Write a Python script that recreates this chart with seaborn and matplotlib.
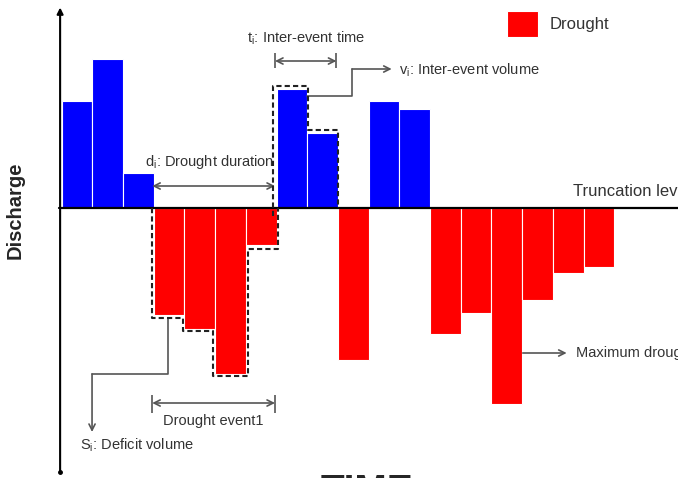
import numpy as np
import pandas as pd
import matplotlib
matplotlib.use("Agg")
import matplotlib.pyplot as plt
import seaborn as sns

# discharge anomaly per time step (above / below truncation level)
steps = list(range(18))
discharge = [10.7, 14.9, 3.5, -10.7, -12.0, -16.5, -3.7, 11.9, 7.5,
             -15.1, 10.7, 9.9, -12.6, -10.4, -19.5, -9.2, -6.5, -5.9]
kinds = ["Drought" if v < 0 else "Flow" for v in discharge]
colors = {"Flow": "#0000FF", "Drought": "#FF0000"}

df = pd.DataFrame({"step": steps, "discharge": discharge, "kind": kinds})

sns.set_style("white")
plt.rcParams["font.family"] = ["Liberation Sans", "DejaVu Sans"]
plt.rcParams["mathtext.fontset"] = "custom"
plt.rcParams["mathtext.rm"] = "Liberation Sans"

fig = plt.figure(figsize=(6.78, 4.78), dpi=100)
ax = fig.add_axes([0, 0, 1, 1])

sns.barplot(data=df, x="step", y="discharge", hue="kind", palette=colors,
            dodge=False, width=1, errorbar=None, edgecolor="white",
            linewidth=0.8, saturation=1, ax=ax)

# map so that one bar is ~30.7 px and 1 unit is 10 px
ax.set_xlim(-77 / 30.7, (678 - 77) / 30.7)
ax.set_ylim(-(478 - 208.5) / 10, 208.5 / 10)
ax.axis("off")

grey = "#555555"
txt = "#333333"
fs = 10.5

# axes: vertical arrow + truncation level line
ax.annotate("", xy=(-0.55, 20.1), xytext=(-0.55, -26.3),
            arrowprops=dict(arrowstyle="-|>", color="black", lw=1.5,
                            shrinkA=0, shrinkB=0, mutation_scale=9))
ax.plot([-0.55], [-26.3], marker="o", ms=2.5, color="black")
ax.plot([-0.6, 20], [0, 0], color="black", lw=1.6, zorder=3)
ax.text(16.15, 1.65, "Truncation level", fontsize=12, color=txt,
        va="center", ha="left")

# dashed outline of drought event 1 (steps 3-6) and the inter-event (7-8)
v = discharge
p = 0.06
red_x = [2.5 - p, 2.5 - p, 3.5 - p, 3.5 - p, 4.5 - p, 4.5 - p, 5.5 + p, 5.5 + p, 6.5 + p, 6.5 + p]
red_y = [0, v[3] - 0.25, v[3] - 0.25, v[4] - 0.25, v[4] - 0.25, v[5] - 0.25,
         v[5] - 0.25, v[6] - 0.35, v[6] - 0.35, 0]
ax.plot(red_x, red_y, color="#222222", lw=1.5, ls=(0, (2.5, 1.5)), zorder=4)
blue_x = [6.5 - 0.12, 6.5 - 0.12, 7.5 + 0.02, 7.5 + 0.02, 8.5, 8.5]
blue_y = [-0.8, v[7] + 0.3, v[7] + 0.3, v[8] + 0.3, v[8] + 0.3, 0]
ax.plot(blue_x, blue_y, color="#222222", lw=1.5, ls=(0, (2.5, 1.5)), zorder=4)

arrow = dict(color=grey, lw=1.2, shrinkA=0, shrinkB=0, mutation_scale=11)

# t_i : inter-event time
ax.annotate("", xy=(8.45, 14.75), xytext=(6.45, 14.75),
            arrowprops=dict(arrowstyle="<->", **arrow))
ax.vlines([6.45, 8.45], 14.0, 15.5, color=grey, lw=1.2)
ax.text(5.55, 17.05, r"t$_\mathrm{i}$: Inter-event time", fontsize=fs,
        color=txt, va="center", ha="left")

# v_i : inter-event volume
ax.plot([7.5, 8.96, 8.96], [11.25, 11.25, 13.95], color=grey, lw=1.2)
ax.annotate("", xy=(10.25, 13.95), xytext=(8.96, 13.95),
            arrowprops=dict(arrowstyle="->", **arrow))
ax.text(10.5, 13.85, r"v$_\mathrm{i}$: Inter-event volume", fontsize=fs,
        color=txt, va="center", ha="left")

# d_i : drought duration
ax.annotate("", xy=(6.45, 2.25), xytext=(2.45, 2.25),
            arrowprops=dict(arrowstyle="<->", **arrow))
ax.text(2.2, 4.65, r"d$_\mathrm{i}$: Drought duration", fontsize=fs,
        color=txt, va="center", ha="left")

# S_i : deficit volume
ax.plot([2.96, 2.96, 0.49], [v[3] - 0.25, -16.55, -16.55], color=grey, lw=1.2)
ax.annotate("", xy=(0.49, -22.35), xytext=(0.49, -16.55),
            arrowprops=dict(arrowstyle="->", **arrow))
ax.text(0.1, -23.65, r"S$_\mathrm{i}$: Deficit volume", fontsize=fs,
        color=txt, va="center", ha="left")

# drought event 1 span
ax.annotate("", xy=(6.45, -19.45), xytext=(2.45, -19.45),
            arrowprops=dict(arrowstyle="<->", **arrow))
ax.vlines([2.45, 6.45], -20.4, -18.6, color=grey, lw=1.2)
ax.text(4.45, -21.3, "Drought event1", fontsize=fs, color=txt,
        va="center", ha="center")

# maximum drought intensity
ax.annotate("", xy=(15.95, -14.45), xytext=(14.52, -14.45),
            arrowprops=dict(arrowstyle="->", **arrow))
ax.text(16.25, -14.45, "Maximum drought intensity", fontsize=fs,
        color=txt, va="center", ha="left")

# axis titles
ax.text(-2.02, -0.15, "Discharge", rotation=90, fontsize=14.5,
        fontweight="bold", va="center", ha="center")
ax.text(9.45, -29.3, "TIME", fontsize=28, fontweight="bold",
        va="baseline", ha="center")

# legend with only the drought entry
handles, labels = ax.get_legend_handles_labels()
keep = [h for h, l in zip(handles, labels) if l == "Drought"]
ax.legend(keep, ["Drought"], loc="upper left",
          bbox_to_anchor=(507 / 678, 1 - 11 / 478), bbox_transform=fig.transFigure,
          frameon=False, fontsize=12, handlelength=1.85, handleheight=2.0,
          borderpad=0, borderaxespad=0, handletextpad=0.7, labelcolor=txt)

fig.savefig("out.png", dpi=100)
